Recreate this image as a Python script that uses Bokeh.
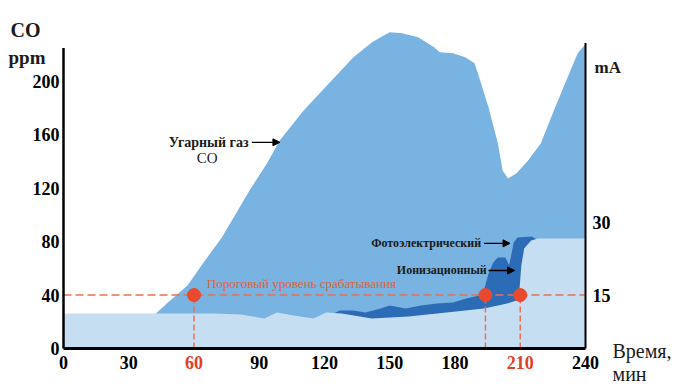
from bokeh.plotting import figure
from bokeh.models import Range1d, Label, Arrow, NormalHead
from bokeh.core.properties import value
from bokeh.embed import file_html
from bokeh.resources import INLINE

# ---- data (x: minutes, y: CO ppm) ----
co_t = [42.5, 48, 57, 64.4, 72.8, 85.6, 93.6, 99.5, 110.5, 122.1, 133.3, 141.7, 145.8, 150,
        155.7, 163, 170.4, 173, 179.1, 184.7, 189, 191.1, 195.4, 199.7, 201.9, 204.4, 208.3,
        213.6, 219.5, 225.5, 231.8, 236.4, 240]
co_ppm = [26.2, 34.5, 47.2, 64.4, 83.1, 118.4, 138.6, 155.8, 178.3, 198.5, 218, 229, 233, 236.7,
          236, 233, 225.5, 221.7, 221, 218, 213.5, 203, 180.5, 153.6, 133.3, 127.3, 131.1,
          140.8, 153.6, 178.3, 203, 221, 227.7]

ion_t = [0, 69.3, 81.6, 92.3, 98.2, 105.9, 115, 120.8, 127.9, 141.7, 158.7, 176.1, 193.3,
         204, 208.3, 209.6, 210.5, 211.8, 215, 218.2, 240]
ion_ppm = [26.2, 26.2, 25.5, 22.5, 27.0, 24.7, 22.5, 27.0, 26.2, 22.5, 24.0, 27.0, 30.0,
           33.7, 36.0, 43.4, 62.2, 74.9, 80.9, 82.4, 82.4]

photo_t = [124.2, 127.1, 133.3, 138.8, 145.8, 150, 157.4, 164.3, 171.7, 179.1, 185.1, 191.1,
           193.7, 195.4, 197.6, 199.7, 203.1, 204.9, 206.1, 207, 208.7, 215.4, 218.2, 240]
photo_ppm = [26.2, 28.5, 28.5, 27.0, 30.0, 32.2, 30.0, 32.2, 33.7, 34.5, 37.5, 39.7,
             45.7, 56.2, 64.4, 68.2, 68.2, 62.5, 71.9, 79.4, 83.1, 83.9, 80.9, 80.9]

THRESHOLD = 40          # ppm  (= 15 mA)
trigger_t = [60, 194, 210]
x_ticks = [0, 30, 60, 90, 120, 150, 180, 210, 240]
red_ticks = [60, 210]
y_ticks = [0, 40, 80, 120, 160, 200]
ma_ticks = [15, 30]
Y_AXIS_TOP = 225        # ppm
MA_AXIS_TOP = 67.4      # mA

CO_C = "#79b3e1"
LIGHT_C = "#c6def1"
DARK_C = "#2c6bb5"
RED = "#e94a2d"
DASH_C = "#ea7052"
TXT_OR = "#d9633f"
TICK_RED = "#e0402a"
FONT = "Liberation Serif"

# ---- layout: plot area covers the whole canvas; axis region in canvas pixels ----
W, H = 676, 387
FL, FT, FW, FH = 63, 14, 522, 334
X_END, Y_END = 240, 250
SX, SY = FW / X_END, FH / Y_END


def px(x):   # canvas pixel -> minutes
    return (x - FL) / SX


def py(y):   # canvas pixel -> ppm
    return (FT + FH - y) / SY


# mA axis: 15 mA at 40 ppm, 30 mA at 94 ppm
def ppm_to_ma(v):
    return 15 + (v - 40) * 15 / 54


p = figure(width=W, height=H, x_range=Range1d(px(0), px(W)), y_range=Range1d(py(H), py(0)),
           output_backend="svg", toolbar_location=None,
           x_axis_location=None, y_axis_location=None,
           min_border_left=0, min_border_right=0, min_border_top=0, min_border_bottom=0)
p.extra_y_ranges = {"ma": Range1d(ppm_to_ma(py(H)), ppm_to_ma(py(0)))}
p.outline_line_color = None
p.background_fill_color = "white"
p.grid.visible = False

# filled series
p.varea(x=co_t, y1=0, y2=co_ppm, color=CO_C)
p.varea(x=photo_t, y1=0, y2=photo_ppm, color=DARK_C)
p.varea(x=ion_t, y1=0, y2=ion_ppm, color=LIGHT_C)

# threshold + trigger points
p.segment(x0=[0], y0=[THRESHOLD], x1=[X_END], y1=[THRESHOLD],
          line_color=DASH_C, line_dash="8 4", line_width=1.5)
p.segment(x0=trigger_t, y0=0, x1=trigger_t, y1=[THRESHOLD] * len(trigger_t),
          line_color=DASH_C, line_dash="6 3", line_width=1.5)
p.scatter(trigger_t, [THRESHOLD] * len(trigger_t), size=13, color=RED)

# axis lines
p.segment(x0=[0], y0=[0], x1=[X_END], y1=[0], line_color="black", line_width=3)
p.segment(x0=[0], y0=[0], x1=[0], y1=[Y_AXIS_TOP], line_color="black", line_width=2.5)
p.segment(x0=[X_END], y0=[ppm_to_ma(0)], x1=[X_END], y1=[MA_AXIS_TOP],
          line_color="black", line_width=2, y_range_name="ma")

tick_style = dict(text_font=value(FONT), text_font_style="bold", text_font_size="18px",
                  text_baseline="middle")
black_ticks = [t for t in x_ticks if t not in red_ticks]
p.text(x=black_ticks, y=[py(362)] * len(black_ticks), text=[str(t) for t in black_ticks],
       text_align="center", text_color="black", **tick_style)
p.text(x=red_ticks, y=[py(362)] * len(red_ticks), text=[str(t) for t in red_ticks],
       text_align="center", text_color=TICK_RED, **tick_style)
p.text(x=[px(59)] * len(y_ticks), y=y_ticks, text=[str(t) for t in y_ticks],
       text_align="right", text_color="black", **tick_style)
p.text(x=[px(592)] * len(ma_ticks), y=ma_ticks, text=[str(t) for t in ma_ticks],
       text_align="left", text_color="black", y_range_name="ma", **tick_style)


def lab(x, y, text, size="12px", style="bold", color="#1a1a1a", align="left"):
    p.add_layout(Label(x=x, y=y, text=text, text_align=align, text_baseline="middle",
                       text_font=FONT, text_font_style=style, text_font_size=size,
                       text_color=color))


def arrow(x0, x1, y):
    p.add_layout(Arrow(end=NormalHead(size=7, fill_color="black", line_color="black"),
                       x_start=x0, y_start=y, x_end=x1, y_end=y,
                       line_width=1.3, line_color="black"))


# axis titles
lab(px(10), py(29), "CO", size="20px")
lab(px(8), py(57), "ppm", size="19px")
lab(px(594), py(67), "mA", size="17px")
lab(px(612), py(350), "Время,", size="20px", style="normal")
lab(px(612), py(373), "мин", size="20px", style="normal")

# annotations
lab(85.1, 154.3, "Угарный газ", size="14px", align="right")
arrow(86.6, 99.5, 154.3)
lab(66, 142.3, "CO", size="15px", style="normal", align="center")
lab(192, 78.7, "Фотоэлектрический", align="right")
arrow(193.3, 205.3, 78.7)
lab(194.6, 58.4, "Ионизационный", align="right")
arrow(195.4, 207.4, 58.4)
lab(65.9, 48.7, "Пороговый уровень срабатывания", size="13px", style="normal", color=TXT_OR)

open("out.html", "w").write(file_html(p, INLINE))
